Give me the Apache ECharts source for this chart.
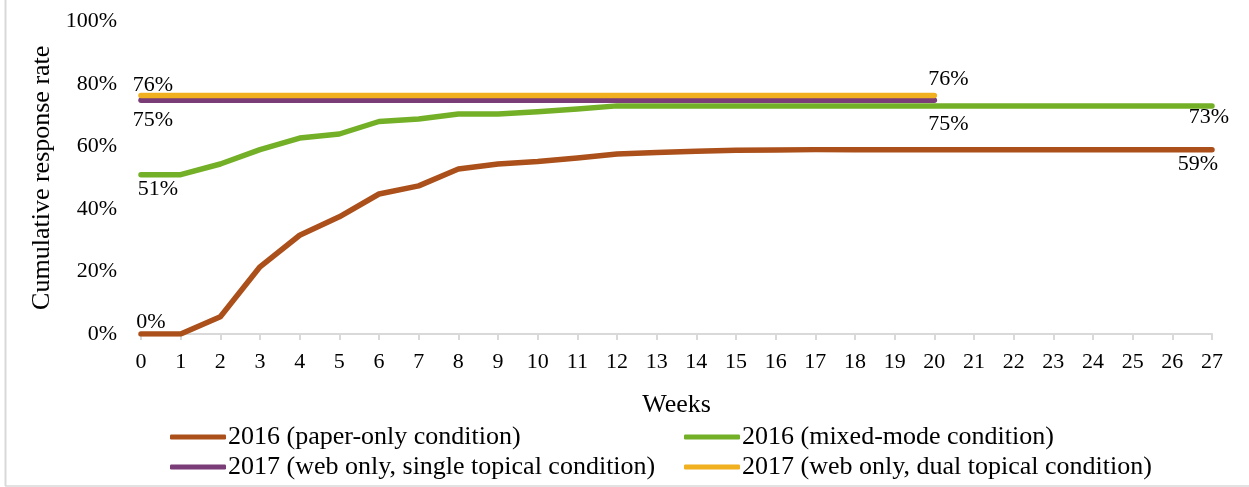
<!DOCTYPE html>
<html>
<head>
<meta charset="utf-8">
<script src="https://cdn.jsdelivr.net/npm/echarts@6/dist/echarts.min.js"></script>
<style>
html,body{margin:0;padding:0;background:#fff;}
#chart{width:1249px;height:487px;}
</style>
</head>
<body>
<div id="chart"></div>
<script>
var weeks = ['0','1','2','3','4','5','6','7','8','9','10','11','12','13','14','15','16','17','18','19','20','21','22','23','24','25','26','27'];
var paperOnly2016 = [0,0,5.5,21.5,31.6,37.5,44.8,47.4,52.8,54.4,55.2,56.3,57.6,58.1,58.5,58.8,58.9,59,59,59,59,59,59,59,59,59,59,59];
var mixedMode2016 = [51,51,54.4,59,62.7,64,68,68.8,70.4,70.4,71.1,72,73,73,73,73,73,73,73,73,73,73,73,73,73,73,73,73];
var webSingle2017 = [74.8,74.8,74.8,74.8,74.8,74.8,74.8,74.8,74.8,74.8,74.8,74.8,74.8,74.8,74.8,74.8,74.8,74.8,74.8,74.8,74.8];
var webDual2017 = [76.3,76.3,76.3,76.3,76.3,76.3,76.3,76.3,76.3,76.3,76.3,76.3,76.3,76.3,76.3,76.3,76.3,76.3,76.3,76.3,76.3];
var yTicks = [0,20,40,60,80,100];
var seriesNames = ['2016 (paper-only condition)','2016 (mixed-mode condition)','2017 (web only, single topical condition)','2017 (web only, dual topical condition)'];
var colors = ['#AB501A','#74B027','#7A3D77','#F0B020'];

var FONT = '"Liberation Serif", "Times New Roman", serif';

// pos: label side, dx: horizontal shift of label centre, dist: gap from line
var labelSpecs = [
  {0:{pos:'top',dx:10,dist:0}, 27:{pos:'bottom',dx:-14,dist:3}},
  {0:{pos:'bottom',dx:17,dist:3.5}, 27:{pos:'bottom',dx:-3,dist:0}},
  {0:{pos:'bottom',dx:12,dist:8}, 20:{pos:'bottom',dx:14,dist:12}},
  {0:{pos:'top',dx:12,dist:-1}, 20:{pos:'top',dx:14,dist:4.5}}
];

function buildData(values, spec){
  return values.map(function(v,i){
    var s = spec[i];
    if(!s) return v;
    var pad = s.dx >= 0 ? [0,0,0,2*s.dx] : [0,-2*s.dx,0,0];
    return {value:v, label:{show:true, position:s.pos, distance:s.dist, padding:pad,
      formatter:function(p){return Math.round(p.value)+'%';},
      fontFamily:FONT, fontSize:22, color:'#000'}};
  });
}

var allValues = [paperOnly2016, mixedMode2016, webSingle2017, webDual2017];
var series = allValues.map(function(vals,k){
  return {
    name: seriesNames[k],
    type:'line',
    data: buildData(vals, labelSpecs[k]),
    showSymbol:true,
    symbol:'circle',
    symbolSize:1,
    lineStyle:{color:colors[k], width:5.5, cap:'round', join:'round'},
    itemStyle:{color:colors[k]},
    label:{show:false},
    labelLayout:{hideOverlap:false},
    emphasis:{disabled:true},
    animation:false,
    z: 2+k
  };
});

var legendPos = [[170,424],[684,424],[170,454],[684,454]];
var legends = seriesNames.map(function(n,i){
  return {
    data:[n], left:legendPos[i][0], top:legendPos[i][1], padding:0,
    icon:'roundRect', itemWidth:56, itemHeight:5,
    itemStyle:{color:colors[i]},
    textStyle:{fontFamily:FONT, fontSize:26, color:'#000', padding:[0,0,0,-3]},
    selectedMode:false
  };
});

var chart = echarts.init(document.getElementById('chart'), null, {renderer:'canvas'});
chart.setOption({
  animation:false,
  backgroundColor:'#fff',
  textStyle:{fontFamily:FONT},
  grid:{left:141, top:21.5, width:1071, height:312.5, containLabel:false},
  legend: legends,
  xAxis:{
    type:'category', data:weeks, boundaryGap:false,
    name:'Weeks', nameLocation:'middle', nameGap:58,
    nameTextStyle:{fontFamily:FONT, fontSize:26, color:'#000'},
    axisLine:{lineStyle:{color:'#D9D9D9', width:2}},
    axisTick:{show:true, length:6, alignWithLabel:true, lineStyle:{color:'#D9D9D9', width:2}},
    axisLabel:{fontFamily:FONT, fontSize:22, color:'#000', margin:17, interval:0},
    splitLine:{show:false}
  },
  yAxis:{
    type:'value', min:0, max:100, interval:20,
    name:'Cumulative response rate', nameLocation:'middle', nameGap:86,
    nameTextStyle:{fontFamily:FONT, fontSize:26, color:'#000'},
    axisLine:{show:false}, axisTick:{show:false}, splitLine:{show:false},
    axisLabel:{fontFamily:FONT, fontSize:22, color:'#000', margin:24,
      formatter:function(v){return yTicks.indexOf(v)>=0 ? v+'%' : '';}}
  },
  graphic:[
    {type:'line', shape:{x1:5.5,y1:0,x2:5.5,y2:486}, style:{stroke:'#D9D9D9', lineWidth:2}, silent:true},
    {type:'line', shape:{x1:5,y1:486,x2:1249,y2:486}, style:{stroke:'#D9D9D9', lineWidth:1.5}, silent:true}
  ],
  series: series
});
</script>
</body>
</html>
